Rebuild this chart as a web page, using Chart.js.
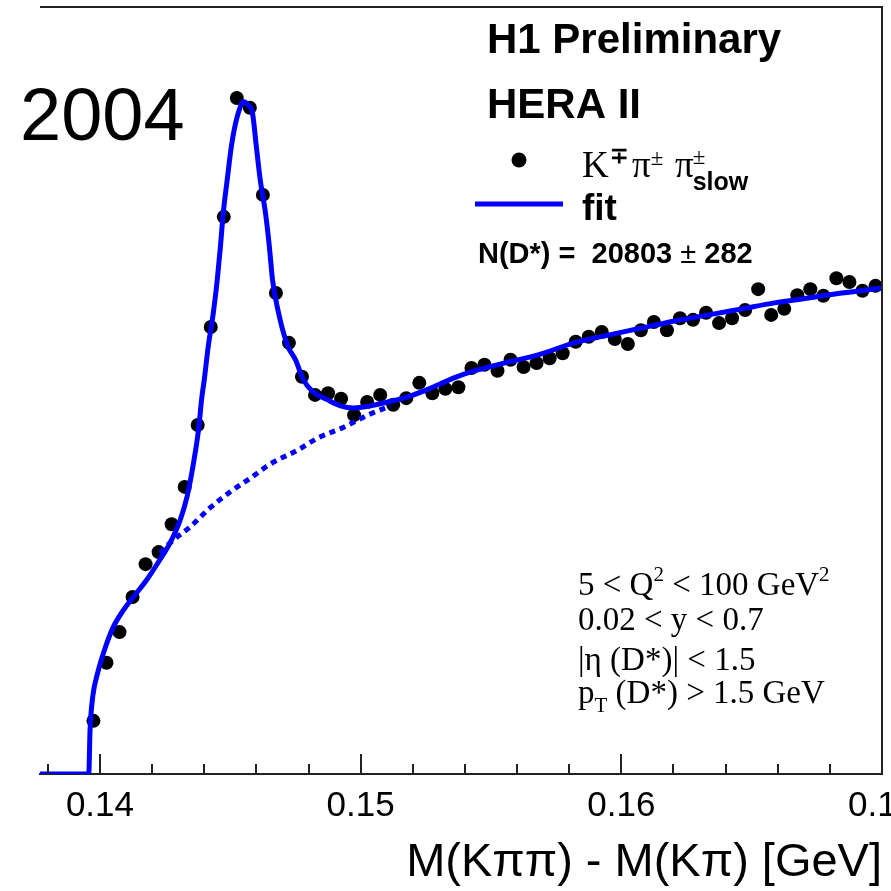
<!DOCTYPE html>
<html>
<head>
<meta charset="utf-8">
<script src="https://cdn.jsdelivr.net/npm/chart.js@4/dist/chart.umd.min.js"></script>
<style>
  html, body { margin: 0; padding: 0; background: #ffffff; }
  #chart-dstar { display: block; }
</style>
</head>
<body>
<canvas id="chart-dstar" width="891" height="891"></canvas>
<script>
// Bin centres, M(Kpipi) - M(Kpi) in GeV (0.5 MeV bins)
const bin_mass = [
    0.13975, 0.14025, 0.14075, 0.14125, 0.14175, 0.14225, 0.14275, 0.14325, 0.14375, 0.14425,
    0.14475, 0.14525, 0.14575, 0.14625, 0.14675, 0.14725, 0.14775, 0.14825, 0.14875, 0.14925,
    0.14975, 0.15025, 0.15075, 0.15125, 0.15175, 0.15225, 0.15275, 0.15325, 0.15375, 0.15425,
    0.15475, 0.15525, 0.15575, 0.15625, 0.15675, 0.15725, 0.15775, 0.15825, 0.15875, 0.15925,
    0.15975, 0.16025, 0.16075, 0.16125, 0.16175, 0.16225, 0.16275, 0.16325, 0.16375, 0.16425,
    0.16475, 0.16525, 0.16575, 0.16625, 0.16675, 0.16725, 0.16775, 0.16825, 0.16875, 0.16925,
    0.16975
]

// Entries per bin
const bin_counts = [
    970, 2030, 2590, 3230, 3830, 4050, 4560, 5240, 6370, 8160,
    10170, 12340, 12160, 10570, 8780, 7870, 7250, 6920, 6950, 6850,
    6550, 6790, 6920, 6740, 6860, 7140, 6950, 7030, 7060, 7410,
    7470, 7360, 7560, 7430, 7500, 7590, 7680, 7890, 7980, 8070,
    7940, 7850, 8100, 8250, 8100, 8320, 8290, 8420, 8230, 8320,
    8470, 8850, 8380, 8490, 8740, 8850, 8730, 9050, 8980, 8820,
    8910
]

// Fit curve (signal + background)
const fit_mass = [
    0.1377, 0.13957, 0.13962, 0.13972, 0.13991, 0.14017, 0.14051, 0.1409, 0.14128, 0.14179,
    0.1423, 0.14269, 0.14308, 0.14334, 0.14359, 0.14378, 0.14391, 0.144, 0.14415, 0.14435,
    0.1445, 0.14462, 0.14473, 0.14488, 0.14504, 0.14515, 0.14531, 0.1455, 0.14569, 0.14585,
    0.146, 0.14615, 0.14635, 0.1465, 0.14662, 0.14685, 0.14719, 0.1475, 0.14781, 0.14819,
    0.14873, 0.14923, 0.14973, 0.15038, 0.15104, 0.15165, 0.15231, 0.15296, 0.15358, 0.15423,
    0.1555, 0.15681, 0.15819, 0.1595, 0.16077, 0.16204, 0.16335, 0.16462, 0.16588, 0.16719,
    0.16846, 0.17
]
const fit_counts = [
    0, 0, 800, 1400, 1840, 2260, 2680, 2990, 3230, 3540,
    3910, 4220, 4640, 5060, 5680, 6280, 6880, 7190, 7790, 8420,
    9020, 9620, 10240, 10840, 11450, 11760, 12070, 12270, 12210, 12070,
    11450, 10840, 10240, 9620, 9020, 8420, 7830, 7560, 7190, 6970,
    6830, 6720, 6680, 6720, 6790, 6860, 6970, 7100, 7230, 7340,
    7500, 7650, 7870, 8010, 8140, 8270, 8380, 8490, 8600, 8690,
    8780, 8870
]

// Background part of the fit (dotted, under the peak)
const bkg_mass = [0.14231, 0.14269, 0.14346, 0.14423, 0.145, 0.14577, 0.14654, 0.14758, 0.14835, 0.14935, 0.15027, 0.15115]
const bkg_counts = [4030, 4220, 4510, 4860, 5150, 5400, 5660, 5910, 6130, 6330, 6550, 6720]

// Axis ticks
const major_ticks = [0.14, 0.15, 0.16, 0.17]
const minor_ticks = [0.138, 0.142, 0.144, 0.146, 0.148, 0.152, 0.154, 0.156, 0.158, 0.162, 0.164, 0.166, 0.168]

// Colours
const color_fit = '#0000ff'
const color_points = '#000000'
const color_frame = '#222222'

const sans = '"Liberation Sans", Arial, sans-serif'
const serif = '"Liberation Serif", "Times New Roman", serif'

function pairs(xs, ys) {
    return xs.map((x, i) => ({x: x, y: ys[i]}))
}

// draw a piece of text with a given font
function txt(ctx, s, x, y, font) {
    ctx.font = font
    ctx.fillText(s, x, y)
    return x + ctx.measureText(s).width
}

// Frame, inward ticks and all the labels inside the plot
const decorations = {
    id: 'decorations',
    afterDraw(chart) {
        const ctx = chart.ctx
        const area = chart.chartArea
        const xs = chart.scales.x
        ctx.save()

        // top and right edges of the frame
        ctx.strokeStyle = color_frame
        ctx.lineWidth = 2
        ctx.beginPath()
        ctx.moveTo(area.left, area.top)
        ctx.lineTo(area.right, area.top)
        ctx.lineTo(area.right, area.bottom)
        ctx.stroke()

        // ticks pointing into the plot
        ctx.beginPath()
        major_ticks.forEach(v => {
            const px = Math.round(xs.getPixelForValue(v))
            ctx.moveTo(px, area.bottom)
            ctx.lineTo(px, area.bottom - 20)
        })
        minor_ticks.forEach(v => {
            const px = Math.round(xs.getPixelForValue(v))
            ctx.moveTo(px, area.bottom)
            ctx.lineTo(px, area.bottom - 10)
        })
        ctx.stroke()

        ctx.fillStyle = '#000000'
        ctx.textBaseline = 'alphabetic'
        ctx.textAlign = 'left'

        // year
        txt(ctx, '2004', 20, 140, '74px ' + sans)

        // experiment labels
        txt(ctx, 'H1 Preliminary', 487, 53, 'bold 42px ' + sans)
        txt(ctx, 'HERA II', 487, 118, 'bold 42px ' + sans)

        // legend: data
        ctx.beginPath()
        ctx.arc(519, 160, 7.5, 0, Math.PI * 2)
        ctx.fill()
        let x = txt(ctx, 'K', 582, 177, '37px ' + serif)
        txt(ctx, '\u2213', x + 1, 163, 'bold 22px ' + sans)
        x = txt(ctx, '\u03c0', 632, 177, '37px ' + serif)
        txt(ctx, '\u00b1', x, 165, '23px ' + serif)
        x = txt(ctx, '\u03c0', 675, 177, '37px ' + serif)
        txt(ctx, '\u00b1', x - 1, 164, '23px ' + serif)
        txt(ctx, 'slow', x - 1, 190, 'bold 25px ' + sans)

        // legend: fit
        ctx.strokeStyle = color_fit
        ctx.lineWidth = 5
        ctx.beginPath()
        ctx.moveTo(475, 204)
        ctx.lineTo(563, 204)
        ctx.stroke()
        txt(ctx, 'fit', 582, 220, 'bold 37px ' + sans)

        x = txt(ctx, 'N(D*) =  20803 ', 478, 263, 'bold 29px ' + sans)
        x = txt(ctx, '\u00b1', x, 263, '29px ' + sans)
        txt(ctx, ' 282', x, 263, 'bold 29px ' + sans)

        // selection cuts
        const f = '33px ' + serif
        const fs = '21px ' + serif
        x = txt(ctx, '5 < Q', 578, 595, f)
        x = txt(ctx, '2', x, 581, fs)
        x = txt(ctx, ' < 100 GeV', x, 595, f)
        txt(ctx, '2', x, 581, fs)
        txt(ctx, '0.02 < y < 0.7', 578, 630, f)
        txt(ctx, '|\u03b7 (D*)| < 1.5', 578, 670, f)
        x = txt(ctx, 'p', 578, 703, f)
        x = txt(ctx, 'T', x, 712, fs)
        txt(ctx, ' (D*) > 1.5 GeV', x, 703, f)

        ctx.restore()
    }
}

const data = {
    datasets: [{
            label: 'K pi pi_slow',
            data: pairs(bin_mass, bin_counts),
            showLine: false,
            pointRadius: 7,
            pointBackgroundColor: color_points,
            pointBorderWidth: 0,
            order: 3,
        },
        {
            label: 'background',
            data: pairs(bkg_mass, bkg_counts),
            showLine: true,
            pointRadius: 0,
            borderColor: color_fit,
            borderWidth: 5,
            borderDash: [6, 5],
            borderCapStyle: 'butt',
            cubicInterpolationMode: 'monotone',
            order: 2,
        },
        {
            label: 'fit',
            data: pairs(fit_mass, fit_counts),
            showLine: true,
            pointRadius: 0,
            borderColor: color_fit,
            borderWidth: 5,
            cubicInterpolationMode: 'monotone',
            order: 1,
        },
    ]
}

const config = {
    type: 'scatter',
    data: data,
    options: {
        responsive: false,
        animation: false,
        devicePixelRatio: 1,
        layout: {
            padding: {left: 40, top: 7, right: 9, bottom: 0},
        },
        plugins: {
            legend: {display: false},
            tooltip: {enabled: false},
        },
        scales: {
            x: {
                type: 'linear',
                min: 0.1377,
                max: 0.17,
                afterBuildTicks: scale => {
                    scale.ticks = major_ticks.map(v => ({value: v}))
                },
                afterFit: scale => {
                    scale.height = 117
                    scale.paddingLeft = 0
                    scale.paddingRight = 0
                },
                grid: {display: false, drawTicks: false},
                border: {display: true, color: color_frame, width: 2},
                ticks: {
                    autoSkip: false,
                    maxRotation: 0,
                    padding: 11,
                    color: '#000000',
                    font: {family: sans, size: 35},
                    callback: v => v.toFixed(2),
                },
                title: {
                    display: true,
                    text: 'M(K\u03c0\u03c0) - M(K\u03c0) [GeV]',
                    align: 'end',
                    color: '#000000',
                    font: {family: sans, size: 47},
                    padding: {top: 0, bottom: 0},
                },
            },
            y: {
                display: false,
                min: 0,
                max: 14000,
            },
        },
    },
    plugins: [decorations],
}

const context = document.getElementById('chart-dstar').getContext('2d')
const chart = new Chart(context, config)
</script>
</body>
</html>
